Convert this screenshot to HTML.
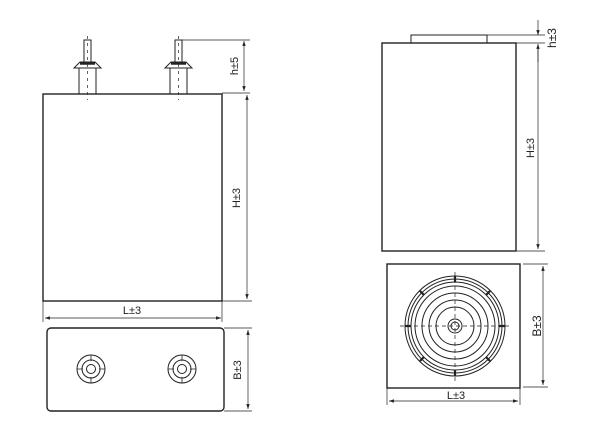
<!DOCTYPE html>
<html><head><style>html,body{margin:0;padding:0;background:#fff}svg{display:block}</style></head>
<body>
<svg width="600" height="431" viewBox="0 0 600 431" xmlns="http://www.w3.org/2000/svg" font-family="Liberation Sans, sans-serif">
<defs>
<marker id="a" viewBox="0 0 10 10" refX="10" refY="5" markerWidth="7" markerHeight="7" orient="auto-start-reverse"><path d="M0,1.5 L10,5 L0,8.5 z" fill="#222"/></marker>
</defs>
<g stroke="#222" fill="none" stroke-width="1.4">
<!-- left front body -->
<rect x="43" y="94" width="179" height="207"/>
<!-- posts -->
<g id="post">
<rect x="84" y="40" width="7" height="22" stroke-width="1"/>
<path d="M80,62 L95,62 L101,68 L74,68 Z" stroke-width="1"/>
<line x1="80" y1="63.5" x2="95" y2="63.5" stroke-width="2.5"/>
<rect x="79" y="68" width="17" height="26" stroke-width="1"/>
</g>
<use href="#post" transform="translate(91,0)"/>
<g stroke-width="0.7" stroke-dasharray="3,4">
<line x1="87.5" y1="36" x2="87.5" y2="100"/><line x1="178.5" y1="36" x2="178.5" y2="100"/>
</g>
<!-- dims left -->
<g stroke-width="0.7">
<line x1="182" y1="40" x2="250" y2="40"/><line x1="222" y1="93" x2="250" y2="93"/>
<line x1="222" y1="301" x2="252" y2="301"/>
<line x1="244" y1="41" x2="244" y2="91" marker-start="url(#a)" marker-end="url(#a)"/>
<line x1="247" y1="95" x2="247" y2="299" marker-start="url(#a)" marker-end="url(#a)"/>
<line x1="43" y1="301" x2="43" y2="322"/><line x1="222" y1="301" x2="222" y2="322"/>
<line x1="45" y1="318" x2="221" y2="318" marker-start="url(#a)" marker-end="url(#a)"/>
<line x1="224" y1="328" x2="252" y2="328"/><line x1="224" y1="411" x2="252" y2="411"/>
<line x1="248" y1="330" x2="248" y2="409" marker-start="url(#a)" marker-end="url(#a)"/>
</g>
<!-- bottom view left -->
<rect x="47" y="328" width="177" height="83" rx="4"/>
<g stroke-width="1">
<circle cx="91" cy="369" r="14"/><circle cx="91" cy="369" r="9"/><circle cx="91" cy="369" r="4.5"/>
<circle cx="182" cy="369" r="14"/><circle cx="182" cy="369" r="9"/><circle cx="182" cy="369" r="4.5"/>
<path d="M91,355v6M91,377v6M77,369h6M99,369h6M182,355v6M182,377v6M168,369h6M190,369h6" stroke-width="0.8"/>
</g>
<!-- right view -->
<rect x="382" y="43" width="134" height="208"/>
<rect x="411" y="35" width="76" height="8" stroke-width="1"/>
<g stroke-width="0.7">
<line x1="487" y1="35" x2="545" y2="35"/><line x1="516" y1="43" x2="545" y2="43"/>
<line x1="516" y1="251" x2="545" y2="251"/>
<line x1="538" y1="20" x2="538" y2="35" marker-end="url(#a)"/>
<line x1="538" y1="62" x2="538" y2="44" marker-end="url(#a)"/>
<line x1="538" y1="45" x2="538" y2="249" marker-end="url(#a)"/>
<line x1="523" y1="264" x2="548" y2="264"/><line x1="523" y1="387" x2="548" y2="387"/>
<line x1="543" y1="266" x2="543" y2="385" marker-start="url(#a)" marker-end="url(#a)"/>
<line x1="387" y1="388" x2="387" y2="405"/><line x1="520" y1="388" x2="520" y2="405"/>
<line x1="389" y1="401" x2="518" y2="401" marker-start="url(#a)" marker-end="url(#a)"/>
</g>
<rect x="387" y="264" width="133" height="124"/>
<g stroke-width="1">
<circle cx="455" cy="326" r="50"/><circle cx="455" cy="326" r="47"/><circle cx="455" cy="326" r="44"/>
<circle cx="455" cy="326" r="40"/><circle cx="455" cy="326" r="33"/><circle cx="455" cy="326" r="26"/>
<circle cx="455" cy="326" r="19"/><circle cx="455" cy="326" r="7"/><circle cx="455" cy="326" r="4"/>
</g>
<g stroke-width="0.7" stroke-dasharray="4,3">
<line x1="400" y1="326" x2="510" y2="326"/><line x1="455" y1="272" x2="455" y2="382"/>
</g>
<g stroke-width="2.2">
<path d="M455,276v6M455,370v6M405,326h6M499,326h6M420,291l4,4M490,291l-4,4M420,361l4,-4M490,361l-4,-4"/>
</g>
</g>
<g fill="#222" font-size="11">
<text transform="translate(238,66) rotate(-90)" text-anchor="middle">h±5</text>
<text transform="translate(240,198) rotate(-90)" text-anchor="middle">H±3</text>
<text x="132" y="314" text-anchor="middle">L±3</text>
<text transform="translate(241,370) rotate(-90)" text-anchor="middle">B±3</text>
<text transform="translate(556,38) rotate(-90)" text-anchor="middle" font-size="12">h±3</text>
<text transform="translate(534,148) rotate(-90)" text-anchor="middle">H±3</text>
<text transform="translate(541,326) rotate(-90)" text-anchor="middle" font-size="12">B±3</text>
<text x="456" y="399" text-anchor="middle">L±3</text>
</g>
</svg>
</body></html>
